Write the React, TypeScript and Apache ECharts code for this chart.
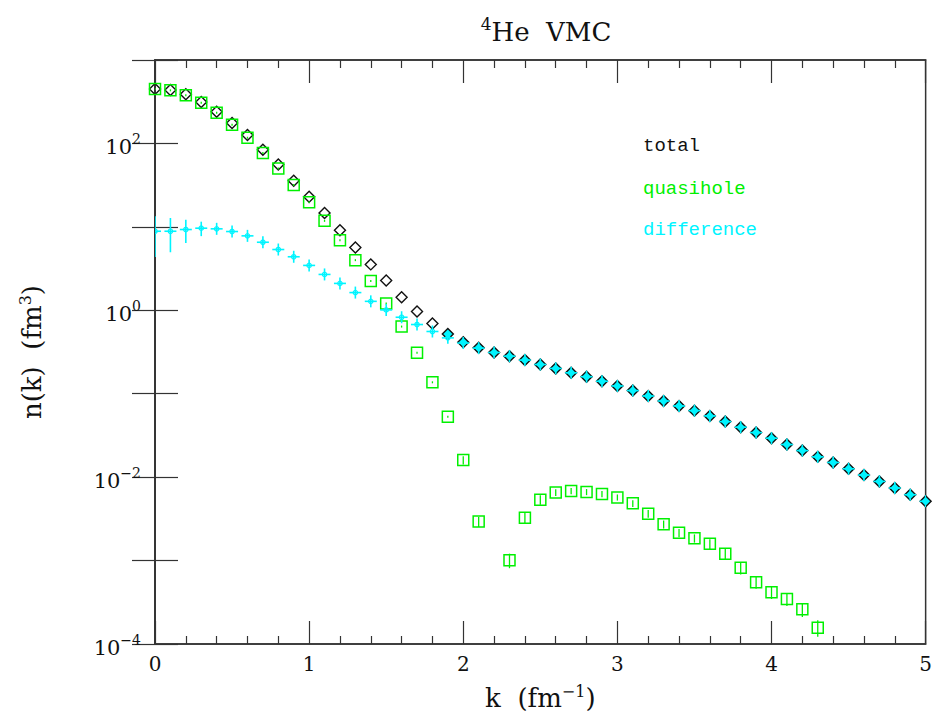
import React, { useEffect, useRef } from 'react';
import * as echarts from 'echarts';

// momentum k (fm^-1)
const kValues = [
  0, 0.1, 0.2, 0.3, 0.4, 0.5, 0.6, 0.7, 0.8, 0.9,
  1.0, 1.1, 1.2, 1.3, 1.4, 1.5, 1.6, 1.7, 1.8, 1.9,
  2.0, 2.1, 2.2, 2.3, 2.4, 2.5, 2.6, 2.7, 2.8, 2.9,
  3.0, 3.1, 3.2, 3.3, 3.4, 3.5, 3.6, 3.7, 3.8, 3.9,
  4.0, 4.1, 4.2, 4.3, 4.4, 4.5, 4.6, 4.7, 4.8, 4.9, 5.0,
];

// total n(k)
const totalValues = [
  449, 437, 388, 314, 240, 176, 126, 84, 56, 35.7,
  23, 14.7, 9.1, 5.66, 3.55, 2.28, 1.43, 0.964, 0.694, 0.521,
  0.414, 0.355, 0.312, 0.282, 0.253, 0.224, 0.201, 0.178, 0.160, 0.141,
  0.124, 0.109, 0.0939, 0.0818, 0.0713, 0.0627, 0.0542, 0.0463, 0.0397, 0.0342,
  0.0293, 0.0246, 0.0208, 0.0175, 0.0150, 0.0126, 0.0106, 0.00889, 0.00741, 0.00616, 0.00513,
];

// quasihole n(k) (k = 0 .. 4.3), null where not plotted
const quasiholeValues = [
  449, 433, 378, 308, 234, 168, 117, 77, 50, 31.8,
  19.7, 11.8, 6.92, 3.99, 2.24, 1.21, 0.638, 0.309, 0.137, 0.0531,
  0.0160, 0.00293, null, 0.00101, 0.00327, 0.00537, 0.00656, 0.00682, 0.00664, 0.00628,
  0.00572, 0.00485, 0.00365, 0.00272, 0.00215, 0.00185, 0.00159, 0.00121, 0.00082, 0.000548,
  0.000416, 0.000346, 0.000261, 0.000157,
];
const quasiholeErrors = [
  0, 0, 0, 0, 0, 0, 0, 0, 0, 0,
  0, 0, 0, 0, 0, 0, 0, 0, 0, 0,
  0.0018, 0.0004, null, 0.0002, 0.00045, 0.0007, 0.0006, 0.0006, 0.00056, 0.00053,
  0.00048, 0.00045, 0.0004, 0.0003, 0.00024, 0.00021, 0.00021, 0.00017, 0.00014, 0.00009,
  0.00007, 0.00006, 0.00005, 0.000035,
];

// difference n(k)
const differenceValues = [
  8.86, 8.86, 9.29, 9.64, 9.47, 8.79, 7.80, 6.54, 5.35, 4.38,
  3.45, 2.69, 2.10, 1.63, 1.28, 1.01, 0.825, 0.675, 0.557, 0.467,
  0.405, 0.352, 0.312, 0.282, 0.253, 0.224, 0.201, 0.178, 0.160, 0.141,
  0.124, 0.109, 0.0939, 0.0818, 0.0713, 0.0627, 0.0542, 0.0463, 0.0397, 0.0342,
  0.0293, 0.0246, 0.0208, 0.0175, 0.0150, 0.0126, 0.0106, 0.00889, 0.00741, 0.00616, 0.00513,
];
const differenceErrors = [
  4.5, 3.9, 2.9, 1.9, 1.4, 1.1, 0, 0, 0, 0,
  0, 0, 0, 0, 0, 0, 0, 0, 0, 0,
  0, 0, 0, 0, 0, 0, 0, 0, 0, 0,
  0, 0, 0, 0, 0, 0, 0, 0, 0, 0,
  0, 0, 0, 0, 0, 0, 0, 0, 0, 0, 0,
];

const legendLabels = ['total', 'quasihole', 'difference'];

const BLACK = '#111111';
const GREEN = '#00f000';
const CYAN = '#00f4ff';
const AXIS = '#333333';
const SERIF = '"DejaVu Serif", "Liberation Serif", serif';
const MONO = '"Liberation Mono", "DejaVu Sans Mono", monospace';

export default function App() {
  const ref = useRef<HTMLDivElement>(null);

  useEffect(() => {
    if (!ref.current) return;
    const chart = echarts.init(ref.current, undefined, { renderer: 'svg' });

    const totalData = kValues.map((k, i) => [k, totalValues[i]]);
    const quasiData = quasiholeValues
      .map((v, i) => [kValues[i], v, quasiholeErrors[i]])
      .filter((d) => d[1] !== null);
    const diffData = kValues.map((k, i) => [k, differenceValues[i], differenceErrors[i]]);

    const supRich = {
      n: { fontFamily: SERIF, fontSize: 21, color: '#111', verticalAlign: 'bottom', lineHeight: 28 },
      sup: { fontFamily: SERIF, fontSize: 14, color: '#111', verticalAlign: 'bottom', lineHeight: 28, padding: [0, 0, 11, 0] },
    };

    const nameRich = {
      n: { fontFamily: SERIF, fontSize: 26, fontWeight: 'normal', color: '#111', verticalAlign: 'bottom', lineHeight: 32 },
      sup: { fontFamily: SERIF, fontSize: 16, fontWeight: 'normal', color: '#111', verticalAlign: 'bottom', lineHeight: 32, padding: [0, 0, 12, 0] },
    };

    const xTickCommon = {
      type: 'value',
      min: 0,
      max: 5,
      interval: 1,
      axisLine: { show: true, lineStyle: { color: AXIS, width: 1.5 } },
      axisTick: { show: true, inside: true, length: 23, lineStyle: { color: AXIS, width: 1.2 } },
      minorTick: { show: true, splitNumber: 5, length: 8, lineStyle: { color: AXIS, width: 1.2 } },
      splitLine: { show: false },
    };

    const yCommon = {
      type: 'log',
      logBase: 10,
      min: 0.0001,
      max: 1000,
      axisLine: { show: true, lineStyle: { color: AXIS, width: 1.5 } },
      axisTick: { show: true, inside: true, length: 23, lineStyle: { color: AXIS, width: 1.2 } },
      splitLine: { show: false },
      minorTick: { show: false },
    };

    chart.setOption({
      animation: false,
      backgroundColor: '#ffffff',
      grid: {
        left: 155, right: 6, top: 60, bottom: 69, containLabel: false,
        show: true, borderColor: AXIS, borderWidth: 1.5, backgroundColor: 'rgba(0,0,0,0)',
      },
      title: {
        text: '{sup|4}{n|He  VMC}',
        left: 541,
        top: 4,
        textAlign: 'center',
        textStyle: {
          fontWeight: 'normal',
          rich: {
            n: { fontFamily: SERIF, fontSize: 26, fontWeight: 'normal', color: '#111', verticalAlign: 'bottom', lineHeight: 36 },
            sup: { fontFamily: SERIF, fontSize: 17, fontWeight: 'normal', color: '#111', verticalAlign: 'bottom', lineHeight: 36, padding: [0, 0, 13, 0] },
          },
        },
      },
      xAxis: [
        {
          ...xTickCommon,
          position: 'bottom',
          axisLabel: { show: true, margin: 10, fontFamily: SERIF, fontSize: 20, color: '#111' },
          name: '{n|k  (fm}{sup|−1}{n|)}',
          nameLocation: 'middle',
          nameGap: 35,
          nameTextStyle: { rich: nameRich },
        },
        {
          ...xTickCommon,
          position: 'top',
          axisLabel: { show: false },
        },
      ],
      yAxis: [
        {
          ...yCommon,
          position: 'left',
          axisLabel: {
            show: true,
            margin: 14,
            formatter: (v: number) => {
              const e = Math.round(Math.log10(v));
              if (e % 2 !== 0) return '';
              const s = e < 0 ? '−' + Math.abs(e) : String(e);
              return '{n|10}{sup|' + s + '}';
            },
            rich: supRich,
          },
          name: '{n|n(k)  (fm}{sup|3}{n|)}',
          nameLocation: 'middle',
          nameRotate: 90,
          nameGap: 110,
          nameTextStyle: { rich: nameRich },
        },
        {
          ...yCommon,
          position: 'right',
          axisLabel: { show: false },
        },
      ],
      graphic: [
        {
          type: 'text',
          left: 643,
          top: 136,
          style: { text: legendLabels[0], fill: BLACK, font: `19px ${MONO}` },
        },
        {
          type: 'text',
          left: 643,
          top: 179,
          style: { text: legendLabels[1], fill: GREEN, font: `19px ${MONO}` },
        },
        {
          type: 'text',
          left: 643,
          top: 220,
          style: { text: legendLabels[2], fill: CYAN, font: `19px ${MONO}` },
        },
      ],
      series: [
        {
          type: 'scatter',
          name: legendLabels[0],
          data: totalData,
          symbol: 'diamond',
          symbolSize: 11,
          itemStyle: {
            color: (p: any) => {
              const i = p.dataIndex;
              return differenceValues[i] >= 0.85 * totalValues[i] ? CYAN : 'rgba(255,255,255,0)';
            },
            borderColor: BLACK,
            borderWidth: 1.4,
            opacity: 1,
          },
          z: 2,
        },
        {
          type: 'scatter',
          name: legendLabels[1],
          data: quasiData.map((d) => [d[0], d[1]]),
          symbol: 'rect',
          symbolSize: 11,
          itemStyle: { color: 'rgba(255,255,255,0)', borderColor: GREEN, borderWidth: 1.5, opacity: 1 },
          z: 3,
        },
        {
          type: 'custom',
          name: 'quasihole errors',
          data: quasiData,
          encode: { x: 0, y: 1 },
          clip: true,
          z: 4,
          renderItem: (params: any, api: any) => {
            const k = api.value(0);
            const v = api.value(1);
            const e = api.value(2) || 0;
            const c = api.coord([k, v]);
            const hi = api.coord([k, v + e])[1];
            const lo = v - e > 0 ? api.coord([k, v - e])[1] : c[1] + 40;
            const t = Math.min(hi, c[1] - 1);
            const b = Math.max(lo, c[1] + 1);
            return {
              type: 'line',
              shape: { x1: c[0], y1: t, x2: c[0], y2: b },
              style: { stroke: GREEN, lineWidth: 1.3 },
            };
          },
        },
        {
          type: 'custom',
          name: legendLabels[2],
          data: diffData,
          encode: { x: 0, y: 1 },
          clip: true,
          z: 5,
          renderItem: (params: any, api: any) => {
            const k = api.value(0);
            const v = api.value(1);
            const e = api.value(2) || 0;
            const c = api.coord([k, v]);
            const hi = api.coord([k, v + e])[1];
            const lo = v - e > 0 ? api.coord([k, v - e])[1] : c[1] + 40;
            const t = Math.min(hi, c[1] - 6);
            const b = Math.max(lo, c[1] + 6);
            return {
              type: 'group',
              children: [
                { type: 'line', shape: { x1: c[0], y1: t, x2: c[0], y2: b }, style: { stroke: CYAN, lineWidth: 1.6 } },
                { type: 'line', shape: { x1: c[0] - 6, y1: c[1], x2: c[0] + 6, y2: c[1] }, style: { stroke: CYAN, lineWidth: 1.6 } },
                { type: 'circle', shape: { cx: c[0], cy: c[1], r: 2.2 }, style: { fill: 'rgba(255,255,255,0)', stroke: CYAN, lineWidth: 1.2 } },
              ],
            };
          },
        },
      ],
    });

    return () => chart.dispose();
  }, []);

  return <div ref={ref} style={{ position: 'fixed', left: 0, top: 0, width: 935, height: 716 }} />;
}
